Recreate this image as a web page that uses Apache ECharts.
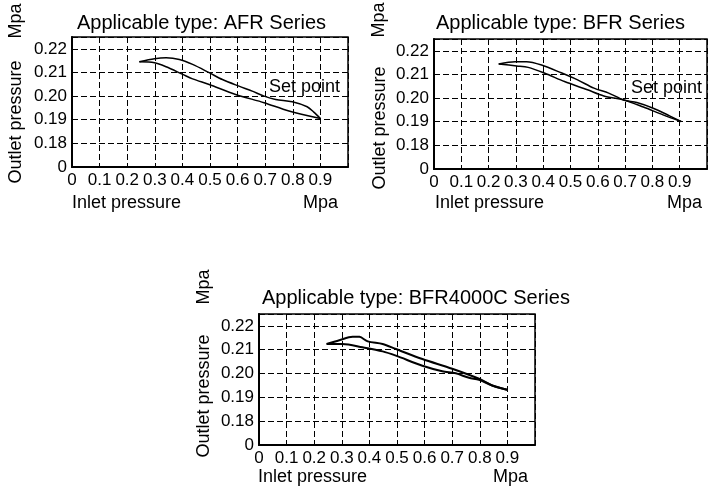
<!DOCTYPE html>
<html>
<head>
<meta charset="utf-8">
<script src="https://cdn.jsdelivr.net/npm/echarts@6/dist/echarts.min.js"></script>
<style>html,body{margin:0;padding:0;background:#fff}#c{width:710px;height:492px}</style>
</head>
<body>
<div id="c"></div>
<script>
// ---- data ----
var titles = ['Applicable type: AFR Series', 'Applicable type: BFR Series', 'Applicable type: BFR4000C Series'];
var xTicks = ['0', '0.1', '0.2', '0.3', '0.4', '0.5', '0.6', '0.7', '0.8', '0.9'];
var yTicks = ['0', '0.18', '0.19', '0.20', '0.21', '0.22'];

var afrUpperX = [0.244, 0.299, 0.341, 0.389, 0.437, 0.497, 0.545, 0.605, 0.653, 0.696, 0.738, 0.798, 0.852, 0.876, 0.900];
var afrUpperY = [0.2145, 0.2158, 0.2162, 0.2155, 0.2134, 0.2099, 0.2070, 0.2042, 0.2021, 0.2000, 0.1986, 0.1976, 0.1955, 0.1932, 0.1905];
var afrLowerX = [0.244, 0.299, 0.341, 0.401, 0.437, 0.497, 0.593, 0.696, 0.786, 0.900];
var afrLowerY = [0.2145, 0.2141, 0.2124, 0.2092, 0.2073, 0.2049, 0.2007, 0.1972, 0.1937, 0.1905];

var bfrUpperX = [0.237, 0.297, 0.339, 0.394, 0.466, 0.526, 0.586, 0.640, 0.695, 0.743, 0.803, 0.863, 0.905];
var bfrUpperY = [0.2144, 0.2154, 0.2154, 0.2140, 0.2107, 0.2077, 0.2042, 0.2021, 0.1992, 0.1981, 0.1957, 0.1925, 0.1901];
var bfrLowerX = [0.237, 0.303, 0.345, 0.406, 0.478, 0.562, 0.622, 0.695, 0.767, 0.839, 0.905];
var bfrLowerY = [0.2144, 0.2136, 0.2130, 0.2105, 0.2070, 0.2035, 0.2009, 0.1992, 0.1962, 0.1929, 0.1901];

var c4UpperX = [0.245, 0.291, 0.339, 0.364, 0.394, 0.448, 0.496, 0.592, 0.700, 0.797, 0.845, 0.899];
var c4UpperY = [0.2124, 0.2140, 0.2155, 0.2154, 0.2135, 0.2124, 0.2103, 0.2061, 0.2020, 0.1978, 0.1950, 0.1932];
var c4LowerX = [0.245, 0.303, 0.375, 0.448, 0.496, 0.592, 0.664, 0.713, 0.761, 0.797, 0.845, 0.899];
var c4LowerY = [0.2124, 0.2124, 0.2110, 0.2093, 0.2075, 0.2033, 0.2010, 0.2001, 0.1982, 0.1974, 0.1950, 0.1932];

// ---- chart ----
var FONT = '"Liberation Sans", Arial, sans-serif';
function zip(xs, ys) { return xs.map(function (x, i) { return [x, ys[i]]; }); }

var grids = [
  {left: 72, top: 37, width: 276, height: 130},
  {left: 434, top: 39, width: 277, height: 130},
  {left: 259, top: 314, width: 276, height: 131}
];

function xAxisFor(i) {
  return {
    type: 'value', gridIndex: i, min: 0, max: 1.0, interval: 0.1,
    axisLine: {show: true, lineStyle: {color: '#000', width: 2}},
    axisTick: {show: false},
    axisLabel: {
      color: '#000', fontSize: 17, fontFamily: '"Liberation Sans Narrow", ' + FONT, margin: 5,
      formatter: function (v) { var k = Math.round(v * 10); return k < xTicks.length ? xTicks[k] : ''; }
    },
    splitLine: {show: true, lineStyle: {color: '#000', width: 1, type: [6, 3]}}
  };
}
function yAxisFor(i) {
  return {
    type: 'value', gridIndex: i, min: 0.17, max: 0.225, interval: 0.01,
    axisLine: {show: true, lineStyle: {color: '#000', width: 2}},
    axisTick: {show: false},
    axisLabel: {
      color: '#000', fontSize: 17, fontFamily: FONT, margin: 5,
      formatter: function (v) { var k = Math.round((v - 0.17) * 100); return k >= 0 && k < yTicks.length && Math.abs(v - (0.17 + k * 0.01)) < 1e-6 ? yTicks[k] : ''; }
    },
    splitLine: {show: true, lineStyle: {color: '#000', width: 1, type: [6, 3]}}
  };
}

function lineSeries(i, data, w) {
  return {
    type: 'line', xAxisIndex: i, yAxisIndex: i, data: data, smooth: 0.3,
    showSymbol: false, silent: true, animation: false,
    lineStyle: {color: '#000', width: w}
  };
}

function txt(x, y, s, opts) {
  opts = opts || {};
  return {
    type: 'text', x: x, y: y, rotation: opts.rot || 0, silent: true,
    style: {
      text: s, fill: '#000', font: (opts.size || 18) + 'px ' + FONT,
      textAlign: opts.align || 'left', textVerticalAlign: 'middle'
    }
  };
}

var option = {
  animation: false,
  backgroundColor: '#fff',
  grid: grids.map(function (g) {
    return Object.assign({show: true, borderColor: '#000', borderWidth: 1.5, backgroundColor: 'transparent'}, g);
  }),
  xAxis: [xAxisFor(0), xAxisFor(1), xAxisFor(2)],
  yAxis: [yAxisFor(0), yAxisFor(1), yAxisFor(2)],
  series: [
    lineSeries(0, zip(afrUpperX, afrUpperY), 1.5),
    lineSeries(0, zip(afrLowerX, afrLowerY), 1.5),
    lineSeries(1, zip(bfrUpperX, bfrUpperY), 1.5),
    lineSeries(1, zip(bfrLowerX, bfrLowerY), 1.5),
    lineSeries(2, zip(c4UpperX, c4UpperY), 2),
    lineSeries(2, zip(c4LowerX, c4LowerY), 2)
  ],
  graphic: [
    txt(77, 23, titles[0], {size: 20}),
    txt(436, 23, titles[1], {size: 20}),
    txt(262, 298, titles[2], {size: 20}),
    txt(16, 21, 'Mpa', {rot: Math.PI / 2, align: 'center'}),
    txt(16, 122, 'Outlet pressure', {rot: Math.PI / 2, align: 'center'}),
    txt(379, 20, 'Mpa', {rot: Math.PI / 2, align: 'center'}),
    txt(380, 128, 'Outlet pressure', {rot: Math.PI / 2, align: 'center'}),
    txt(204, 287, 'Mpa', {rot: Math.PI / 2, align: 'center'}),
    txt(204, 396, 'Outlet pressure', {rot: Math.PI / 2, align: 'center'}),
    txt(72, 203, 'Inlet pressure'),
    txt(435, 203, 'Inlet pressure'),
    txt(258, 477, 'Inlet pressure'),
    txt(338, 203, 'Mpa', {align: 'right'}),
    txt(702, 203, 'Mpa', {align: 'right'}),
    txt(528, 477, 'Mpa', {align: 'right'}),
    txt(269, 87, 'Set point'),
    txt(631, 88, 'Set point')
  ]
};

var chart = echarts.init(document.getElementById('c'), null, {renderer: 'canvas'});
chart.setOption(option);
</script>
</body>
</html>
